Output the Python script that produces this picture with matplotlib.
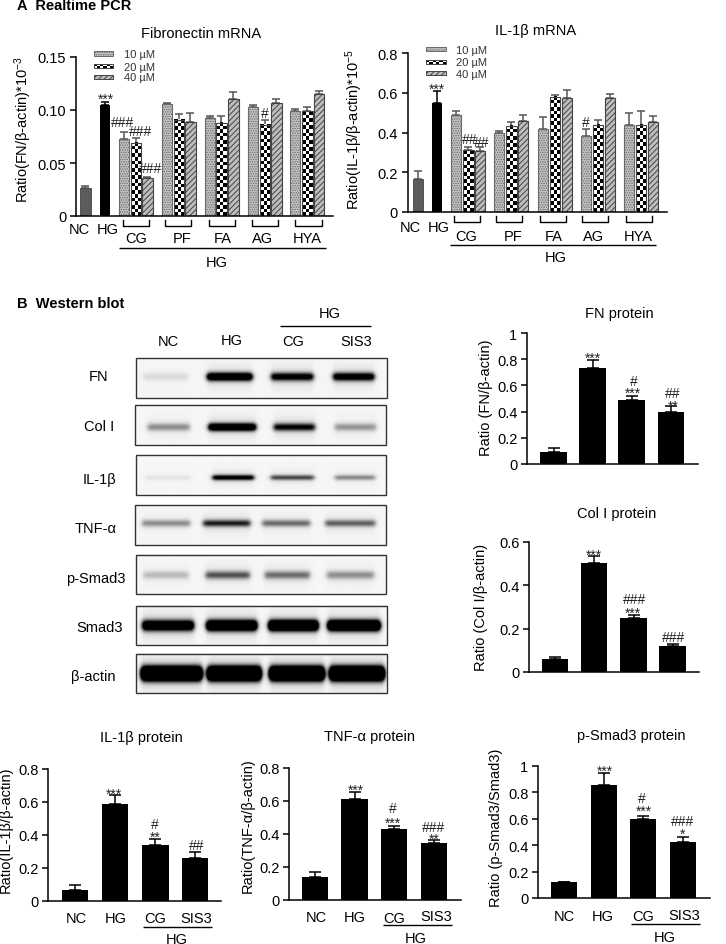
import numpy as np
import matplotlib
matplotlib.use("Agg")
import matplotlib.pyplot as plt
from matplotlib.patches import Rectangle

plt.rcParams['font.family'] = ['Liberation Sans', 'DejaVu Sans']
plt.rcParams['mathtext.fontset'] = 'custom'
plt.rcParams['mathtext.rm'] = 'Liberation Sans'
plt.rcParams['mathtext.default'] = 'regular'
plt.rcParams['hatch.linewidth'] = 0.7

W, H = 726, 945
FS = 10.5

# realtime PCR, order: NC, HG, then CG/PF/FA/AG/HYA at 10, 20, 40 uM
fn_mrna = [0.026, 0.105, 0.073, 0.069, 0.036, 0.106, 0.091, 0.089, 0.092, 0.088, 0.110,
           0.103, 0.086, 0.107, 0.099, 0.099, 0.115]
fn_mrna_err = [0.002, 0.003, 0.006, 0.005, 0.001, 0.001, 0.005, 0.008, 0.002, 0.006, 0.007,
               0.002, 0.005, 0.003, 0.002, 0.004, 0.003]
il1b_mrna = [0.165, 0.55, 0.49, 0.31, 0.305, 0.395, 0.435, 0.46, 0.42, 0.58, 0.575,
             0.38, 0.44, 0.575, 0.44, 0.44, 0.455]
il1b_mrna_err = [0.04, 0.06, 0.02, 0.015, 0.02, 0.012, 0.02, 0.03, 0.06, 0.007, 0.04,
                 0.04, 0.025, 0.02, 0.06, 0.07, 0.03]

# western blot quantification, order: NC, HG, CG, SIS3
fn_prot = [0.09, 0.735, 0.485, 0.40]
fn_prot_err = [0.035, 0.06, 0.035, 0.045]
col_prot = [0.06, 0.505, 0.25, 0.12]
col_prot_err = [0.008, 0.03, 0.012, 0.007]
il1b_prot = [0.065, 0.585, 0.34, 0.26]
il1b_prot_err = [0.03, 0.06, 0.035, 0.035]
tnf_prot = [0.14, 0.615, 0.43, 0.345]
tnf_prot_err = [0.03, 0.04, 0.02, 0.02]
smad_prot = [0.12, 0.855, 0.595, 0.425]
smad_prot_err = [0.005, 0.09, 0.03, 0.04]

doses = ['10 µM', '20 µM', '40 µM']
blot_names = ['FN', 'Col I', 'IL-1β', 'TNF-α', 'p-Smad3', 'Smad3', 'β-actin']
# how dark each lane's band looks (NC, HG, CG, SIS3)
blot_strength = [[0.10, 1.5, 1.1, 1.2],
                 [0.38, 1.5, 0.95, 0.35],
                 [0.07, 1.1, 0.65, 0.40],
                 [0.38, 0.80, 0.50, 0.55],
                 [0.22, 0.60, 0.50, 0.38],
                 [1.6, 2.0, 2.2, 2.2],
                 [3.0, 3.0, 3.0, 3.0]]

fig = plt.figure(figsize=(W / 100, H / 100), dpi=100)


def px_axes(left, right, top, bottom, ymax, ticks, labels):
    ax = fig.add_axes([left / W, 1 - bottom / H, (right - left) / W, (bottom - top) / H])
    ax.set_xlim(left, right)
    ax.set_ylim(0, ymax)
    for s in ['top', 'right']:
        ax.spines[s].set_visible(False)
    ax.spines['left'].set_linewidth(1.1)
    ax.spines['bottom'].set_linewidth(1.1)
    ax.set_xticks([])
    ax.set_yticks(ticks)
    ax.set_yticklabels(labels, fontsize=FS)
    ax.tick_params(axis='y', length=4, width=1.1, pad=3)
    ax.patch.set_alpha(0)
    return ax


def checker_bar(ax, x0, x1, v, px_per_unit):
    hgt = max(int(round(v * px_per_unit / 3.6)), 1)
    wid = max(int(round((x1 - x0) / 3.6)), 1)
    pat = np.indices((hgt, wid)).sum(axis=0) % 2
    ax.imshow(pat, cmap='gray', vmin=0, vmax=1, extent=(x0, x1, 0, v), aspect='auto',
              interpolation='nearest', zorder=2, origin='lower')


def dose_bars(ax, edges, vals, errs, px_per_unit):
    ymax = ax.get_ylim()[1]
    xlim = ax.get_xlim()
    for i, (x0, x1) in enumerate(edges):
        v, e = vals[i], errs[i]
        mid = (x0 + x1) / 2
        kind = (i - 2) % 3
        col = '#555555'
        if i == 0:
            ax.bar(mid, v, x1 - x0, color='#5c5c5c', edgecolor='#444444', lw=0.6, zorder=2)
        elif i == 1:
            ax.bar(mid, v, x1 - x0, color='black', zorder=2)
            col = 'black'
        elif kind == 0:
            ax.bar(mid, v, x1 - x0, color='#c4c4c4', edgecolor='#6a6a6a', lw=0.8,
                   hatch='.......', zorder=2)
        elif kind == 1:
            checker_bar(ax, x0, x1, v, px_per_unit)
            ax.bar(mid, v, x1 - x0, fill=False, edgecolor='#444444', lw=0.8, zorder=3)
        else:
            ax.bar(mid, v, x1 - x0, color='#bdbdbd', edgecolor='#444444', lw=0.8,
                   hatch='//////', zorder=2)
        ax.errorbar(mid, v, yerr=[[0], [e]], color=col, capsize=2.6, lw=1.1, capthick=1.1, zorder=1)
    ax.set_xlim(xlim)
    ax.set_ylim(0, ymax)


def black_bars(ax, edges, vals, errs):
    for (x0, x1), v, e in zip(edges, vals, errs):
        mid = (x0 + x1) / 2
        ax.bar(mid, v, x1 - x0, color='black', zorder=2)
        ax.errorbar(mid, v, yerr=[[0], [e]], color='black', capsize=4.5, lw=1.1, capthick=1.1, zorder=1)


# panel A, left
edges = [(80, 90.5), (99.5, 110), (119, 129), (130.5, 141), (142, 152.5), (162, 172), (173.5, 184), (185, 195.5),
         (205, 214.5), (216, 226.5), (228, 238.5), (247.5, 257.5), (259.5, 270), (271, 281.5), (290, 300), (302, 312.5), (314, 324)]
ax = px_axes(76, 333, 58, 217, 0.15, [0, 0.05, 0.10, 0.15], ['0', '0.05', '0.10', '0.15'])
dose_bars(ax, edges, fn_mrna, fn_mrna_err, 159 / 0.15)

# panel A, right
edges = [(412.5, 423), (431.5, 442), (451, 461), (463, 473.5), (475, 485), (494, 504), (506, 516.5), (518, 528),
         (537.5, 547.5), (549.5, 560), (561.5, 571.5), (581, 591), (592.5, 603), (604.5, 614.5), (623.5, 633.5), (635.5, 646), (647.5, 657.5)]
ax = px_axes(407.5, 667, 54, 213, 0.8, [0, 0.2, 0.4, 0.6, 0.8], ['0', '0.2', '0.4', '0.6', '0.8'])
dose_bars(ax, edges, il1b_mrna, il1b_mrna_err, 159 / 0.8)

# protein panels
t5 = [0, 0.2, 0.4, 0.6, 0.8, 1]
l5 = ['0', '0.2', '0.4', '0.6', '0.8', '1']
t4 = [0, 0.2, 0.4, 0.6, 0.8]
l4 = ['0', '0.2', '0.4', '0.6', '0.8']
t3 = [0, 0.2, 0.4, 0.6]
l3 = ['0', '0.2', '0.4', '0.6']

ax = px_axes(527, 698, 334, 465, 1, t5, l5)
black_bars(ax, [(540, 567), (579, 606), (618, 645), (658, 684)], fn_prot, fn_prot_err)
ax = px_axes(529, 699, 543, 673, 0.6, t3, l3)
black_bars(ax, [(542, 568), (581, 607), (620, 647), (659, 686)], col_prot, col_prot_err)
ax = px_axes(48, 221.5, 770, 902, 0.8, t4, l4)
black_bars(ax, [(62, 88), (102, 128), (142, 169), (182, 208)], il1b_prot, il1b_prot_err)
ax = px_axes(289, 461, 769, 901, 0.8, t4, l4)
black_bars(ax, [(302, 328), (341, 368), (381, 407), (421, 447)], tnf_prot, tnf_prot_err)
ax = px_axes(538, 710, 767, 899, 1, t5, l5)
black_bars(ax, [(551, 577), (591, 617), (630, 656), (670, 696)], smad_prot, smad_prot_err)

# everything else sits on one overlay in picture pixels
ov = fig.add_axes([0, 0, 1, 1], zorder=10)
ov.patch.set_alpha(0)
ov.axis('off')


def txt(x, y, s, **kw):
    kw.setdefault('fontsize', FS)
    ov.text(x, y, s, ha='center', va='center', **kw)


def line(x0, x1, y, lw=1.0):
    ov.plot([x0, x1], [y, y], color='black', lw=lw, solid_capstyle='butt')


def bracket(x0, x1, top, bottom):
    ov.plot([x0, x0, x1, x1], [top, bottom, bottom, top], color='black', lw=1.0)


def legend(x0, x1, ys, xt, yt):
    for (y0, y1), d, ty, kind in zip(ys, doses, yt, range(3)):
        if kind == 0:
            ov.add_patch(Rectangle((x0, y0), x1 - x0, y1 - y0, fc='#c4c4c4', ec='#6a6a6a', lw=0.7, hatch='.......'))
        elif kind == 1:
            cells = np.indices((2, 6)).sum(axis=0) % 2
            ov.imshow(cells, cmap='gray', extent=(x0, x1, y1, y0), aspect='auto', interpolation='nearest')
            ov.add_patch(Rectangle((x0, y0), x1 - x0, y1 - y0, fill=False, ec='#444444', lw=0.7))
        else:
            ov.add_patch(Rectangle((x0, y0), x1 - x0, y1 - y0, fc='#bdbdbd', ec='#444444', lw=0.7, hatch='//////'))
        ov.text(xt, ty, d, fontsize=8, color='#333333', va='center')


def stars(x, y, s, fontsize=10):
    # asterisks ride high in their box, so push them down a bit
    txt(x, y + (3 if '*' in s else 0), s, fontsize=fontsize, color='#222222')


# blots
frames = [(136, 387, 359, 399), (134.7, 386, 405.7, 445.7), (135.7, 386, 455.7, 495.7), (135, 385.7, 506, 546),
          (135.7, 386, 555.7, 595.3), (135.7, 387, 607, 646.3), (135.7, 387, 654.7, 694.3)]
lanes = [[(143, 188), (207, 252), (271, 313), (333, 374)],
         [(147, 189), (208, 255), (273, 314), (334, 375)],
         [(145, 190), (212, 253), (270, 313), (334, 374)],
         [(142, 190), (203, 250), (262, 310), (325, 375)],
         [(143, 188), (205, 249), (264, 309), (326, 373)],
         [(142, 193), (206, 256), (268, 317), (327, 379)],
         [(141, 201), (207, 260), (269, 323), (329, 383)]]
band_y = [377.5, 428, 478, 524, 576.5, 627, 675]
band_sig = [2.8, 2.6, 1.8, 2.4, 2.8, 3.6, 4.6]
for fr, ln, strengths, by, sig in zip(frames, lanes, blot_strength, band_y, band_sig):
    x0, x1, y0, y1 = fr
    xs = np.arange(x0, x1, 0.5)
    ys = np.arange(y0, y1, 0.5)
    gx, gy = np.meshgrid(xs, ys)
    dark = np.full(gx.shape, 0.035)
    for (a, b), st in zip(ln, strengths):
        prof = 0.5 * (np.tanh((gx - a) / 2.5) - np.tanh((gx - b) / 2.5))
        dark = dark + st * prof * np.exp(-(gy - by) ** 2 / (2 * sig ** 2))
        # soft smear around the band
        dark = dark + 0.10 * min(st, 1) * prof * np.exp(-(gy - by) ** 2 / (2 * (3 * sig) ** 2))
    ov.imshow(1 - np.clip(dark, 0, 1), cmap='gray', vmin=0, vmax=1, extent=(x0, x1, y1, y0),
              aspect='auto', interpolation='bilinear')
    ov.add_patch(Rectangle((x0, y0), x1 - x0, y1 - y0, fill=False, ec='#333333', lw=1.0))

name_pos = [(99, 377), (99, 427), (100, 480), (96, 529), (96, 579), (100, 628), (93, 677)]
for (x, y), name in zip(name_pos, blot_names):
    txt(x, y, name)
txt(330, 314, 'HG')
line(280, 371, 327)
for x, y, s in [(168, 342, 'NC'), (232, 341, 'HG'), (293, 342, 'CG'), (356, 342, 'SIS3')]:
    txt(x, y, s)

# headings
ov.text(17, 6, 'A  Realtime PCR', fontsize=FS, fontweight='bold', va='center')
ov.text(17, 304, 'B  Western blot', fontsize=FS, fontweight='bold', va='center')
for x, y, s in [(201, 34, 'Fibronectin mRNA'), (536, 31, 'IL-1β mRNA'), (619, 314, 'FN protein'),
                (617, 514, 'Col I protein'), (141, 738, 'IL-1β protein'), (370, 737, 'TNF-α protein'),
                (631, 736, 'p-Smad3 protein')]:
    txt(x, y, s)

# y labels
for x, y, s in [(23, 130, 'Ratio(FN/β-actin)*10$^{-3}$'), (354, 129, 'Ratio(IL-1β/β-actin)*10$^{-5}$'),
                (486, 398, 'Ratio (FN/β-actin)'), (481, 607, 'Ratio (Col I/β-actin)'),
                (6, 830, 'Ratio(IL-1β/β-actin)'), (248, 826, 'Ratio(TNF-α/β-actin)'),
                (496, 828, 'Ratio (p-Smad3/Smad3)')]:
    txt(x, y, s, rotation=90)

# legends
legend(94, 113, [(52, 57), (65, 69), (76, 80)], 124, [55, 68, 78])
legend(426, 446, [(48, 52), (61, 65), (72, 76)], 456, [51, 63, 75])

# group labels under the PCR panels
for x, y, s in [(79, 230, 'NC'), (108, 230, 'HG'), (136, 239, 'CG'), (182, 239, 'PF'), (223, 239, 'FA'),
                (263, 239, 'AG'), (307, 239, 'HYA'), (217, 263, 'HG'),
                (410, 228, 'NC'), (439, 228, 'HG'), (466, 237, 'CG'), (513, 237, 'PF'), (554, 237, 'FA'),
                (594, 237, 'AG'), (638, 237, 'HYA'), (556, 258, 'HG')]:
    txt(x, y, s)
for a, b in [(123, 149), (165, 191), (209, 235), (252, 278), (295, 322)]:
    bracket(a, b, 221, 227)
for a, b in [(454, 480), (496, 522), (540, 566), (582, 608), (626, 652)]:
    bracket(a, b, 217, 223)
line(119, 326, 249)
line(450, 656, 246)

# group labels under the bottom row
for x, y, s in [(76, 919, 'NC'), (116, 919, 'HG'), (155, 919, 'CG'), (196, 919, 'SIS3'), (177, 940, 'HG'),
                (316, 918, 'NC'), (355, 918, 'HG'), (394, 919, 'CG'), (436, 917, 'SIS3'), (416, 939, 'HG'),
                (564, 917, 'NC'), (603, 917, 'HG'), (643, 917, 'CG'), (684, 916, 'SIS3'), (665, 938, 'HG')]:
    txt(x, y, s)
line(143, 212, 928)
line(383, 452, 926)
line(631, 700, 925)

# significance marks
marks = [(106, 97, '***'), (123, 123, '###'), (141, 132, '###'), (151, 169, '###'), (265, 114, '#'),
         (437, 87, '***'), (470, 140, '##'), (482, 143, '##'), (586, 123, '#'),
         (593, 356, '***'), (634, 382, '#'), (633, 391, '***'), (673, 394, '##'), (673, 404, '**'),
         (594, 553, '***'), (635, 600, '###'), (633, 611, '***'), (674, 638, '###'),
         (114, 792, '***'), (155, 825, '#'), (155, 835, '**'), (197, 846, '##'),
         (356, 788, '***'), (393, 809, '#'), (393, 821, '***'), (434, 828, '###'), (434, 837, '**'),
         (605, 769, '***'), (642, 799, '#'), (644, 809, '***'), (683, 822, '###'), (683, 832, '*')]
for x, y, s in marks:
    stars(x, y, s)

ov.set_xlim(0, W)
ov.set_ylim(H, 0)

fig.savefig('out.png', dpi=100)
